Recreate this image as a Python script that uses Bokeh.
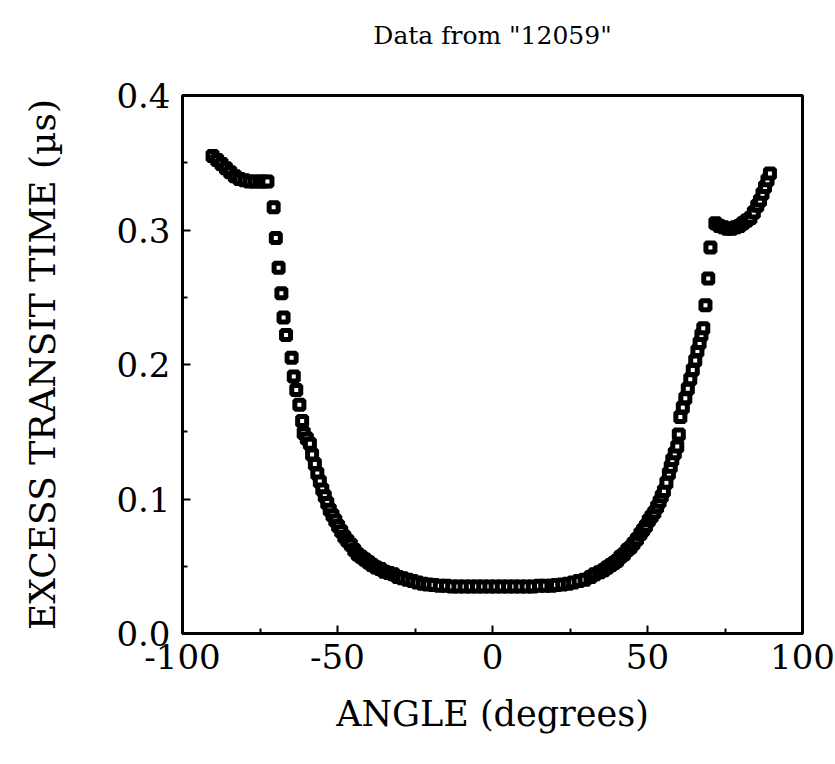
from bokeh.plotting import figure
from bokeh.models import Range1d, FixedTicker, Title
from bokeh.embed import file_html
from bokeh.resources import INLINE

# Data
angle_deg = [
    -90.3, -88.8, -87.4, -86.0, -84.6, -83.1, -81.6, -80.0, -78.4, -76.8, -75.2, -73.8, -72.6,
    -70.6, -69.9, -69.0, -68.1, -67.4, -66.6, -64.8, -64.1, -63.3, -62.3, -61.4, -60.9, -59.9,
    -58.9, -58.2, -57.3, -56.5, -55.7, -54.9, -54.1, -53.3, -52.5, -51.6, -50.7, -49.8, -48.8,
    -47.8, -46.8, -45.7, -44.6, -43.5, -42.4, -41.2, -40.0, -38.8, -37.5, -36.2, -34.8, -33.4,
    -32.0, -30.5, -29.0, -27.4, -25.8, -24.2, -22.5, -20.8, -19.0,
    -17.0, -15.0, -13.0, -11.0, -9.0, -7.0, -5.0, -3.0, -1.0, 1.0, 3.0, 5.0, 7.0, 9.0, 11.0,
    13.0, 15.0, 17.0, 19.0,
    20.5, 22.5, 24.3, 26.0, 27.8, 29.7, 31.6, 33.0, 34.5, 35.8, 37.0, 38.2, 39.2, 40.2, 41.3,
    42.4, 43.5, 44.5, 45.5, 46.6, 47.7, 48.6, 49.5, 50.4, 51.3, 52.2, 53.1, 53.9, 54.6, 55.3,
    56.1, 56.9, 57.5, 58.0, 58.8, 59.6, 60.1, 60.6, 61.4, 62.2, 63.0, 63.8, 64.6, 65.4, 66.1,
    66.8, 67.4, 68.0, 68.7, 69.6, 70.3,
    71.9, 73.2, 74.5, 75.8, 77.1, 78.4, 79.6, 80.8, 82.0, 83.2, 84.3, 85.4, 86.3, 87.1, 87.9,
    88.7, 89.5,
]
excess_transit_us = [
    0.355, 0.352, 0.349, 0.346, 0.343, 0.340, 0.338, 0.337, 0.336, 0.336, 0.336, 0.336, 0.336,
    0.317, 0.294, 0.272, 0.253, 0.235, 0.222, 0.205, 0.191, 0.181, 0.170, 0.158, 0.149, 0.145,
    0.141, 0.133, 0.126, 0.119, 0.113, 0.107, 0.102, 0.097, 0.092, 0.088, 0.084, 0.080, 0.076,
    0.072, 0.069, 0.066, 0.062, 0.059, 0.057, 0.055, 0.053, 0.051, 0.049, 0.048, 0.046, 0.045,
    0.044, 0.042, 0.041, 0.040, 0.039, 0.038, 0.037, 0.0365, 0.036,
    0.0355, 0.0355, 0.035, 0.035, 0.035, 0.035, 0.035, 0.035, 0.035, 0.035, 0.035, 0.035, 0.035,
    0.035, 0.035, 0.035, 0.0355, 0.0355, 0.0355,
    0.036, 0.0365, 0.037, 0.038, 0.039, 0.040, 0.042, 0.044, 0.0455, 0.047, 0.049, 0.051, 0.0525,
    0.054, 0.057, 0.059, 0.062, 0.064, 0.067, 0.070, 0.074, 0.077, 0.080, 0.084, 0.087, 0.090,
    0.094, 0.098, 0.102, 0.106, 0.112, 0.119, 0.124, 0.129, 0.134, 0.139, 0.148, 0.161, 0.168,
    0.175, 0.182, 0.189, 0.196, 0.203, 0.210, 0.216, 0.222, 0.227, 0.244, 0.264, 0.287,
    0.305, 0.303, 0.302, 0.301, 0.301, 0.302, 0.303, 0.305, 0.307, 0.309, 0.313, 0.318, 0.322,
    0.327, 0.332, 0.337, 0.342,
]
x_ticks = [-100, -50, 0, 50, 100]
x_labels = ["-100", "-50", "0", "50", "100"]
x_minor = [-75, -25, 25, 75]
y_ticks = [0.0, 0.1, 0.2, 0.3, 0.4]
y_labels = ["0.0", "0.1", "0.2", "0.3", "0.4"]
y_minor = [0.05, 0.15, 0.25, 0.35]
title_text = 'Data from "12059"'

FONT = "DejaVu Serif"

p = figure(width=835, height=764, output_backend="svg", toolbar_location=None,
           x_range=Range1d(-100, 100), y_range=Range1d(0, 0.4),
           min_border_left=182, min_border_right=33, min_border_top=95, min_border_bottom=131)
p.background_fill_color = "white"
p.border_fill_color = "white"
p.outline_line_color = "black"
p.outline_line_width = 3
p.xgrid.visible = False
p.ygrid.visible = False

# a blank second line lifts the title well above the frame
p.title = Title(text=title_text + "\n ", align="center", text_font=FONT,
                text_font_size="25px", text_font_style="normal", text_color="black",
                standoff=34)

p.xaxis.ticker = FixedTicker(ticks=x_ticks, minor_ticks=x_minor)
p.yaxis.ticker = FixedTicker(ticks=y_ticks, minor_ticks=y_minor)
p.xaxis.major_label_overrides = {t: l for t, l in zip(x_ticks, x_labels)}
p.yaxis.major_label_overrides = {t: l for t, l in zip(y_ticks, y_labels)}

for ax in (p.xaxis[0], p.yaxis[0]):
    ax.axis_line_width = 3
    ax.axis_line_color = "black"
    ax.major_tick_in = 8
    ax.major_tick_out = 0
    ax.minor_tick_in = 5
    ax.minor_tick_out = 0
    ax.major_tick_line_width = 2
    ax.minor_tick_line_width = 2
    ax.major_tick_line_color = "black"
    ax.minor_tick_line_color = "black"
    ax.major_label_text_font = FONT
    ax.major_label_text_font_size = "34px"
    ax.major_label_text_color = "black"
    ax.axis_label_text_font = FONT
    ax.axis_label_text_font_style = "normal"
    ax.axis_label_text_color = "black"

p.xaxis.axis_label_text_font_size = "35px"
p.yaxis.axis_label_text_font_size = "36px"
p.xaxis.axis_label = "ANGLE (degrees)"
p.yaxis.axis_label = "EXCESS TRANSIT TIME (µs)"
p.xaxis.major_label_standoff = 10
p.yaxis.major_label_standoff = 12
p.xaxis.axis_label_standoff = 22
p.yaxis.axis_label_standoff = 50

p.scatter(angle_deg, excess_transit_us, marker="square", size=9,
          fill_color="white", line_color="black", line_width=5)

open("out.html", "w").write(file_html(p, INLINE))
